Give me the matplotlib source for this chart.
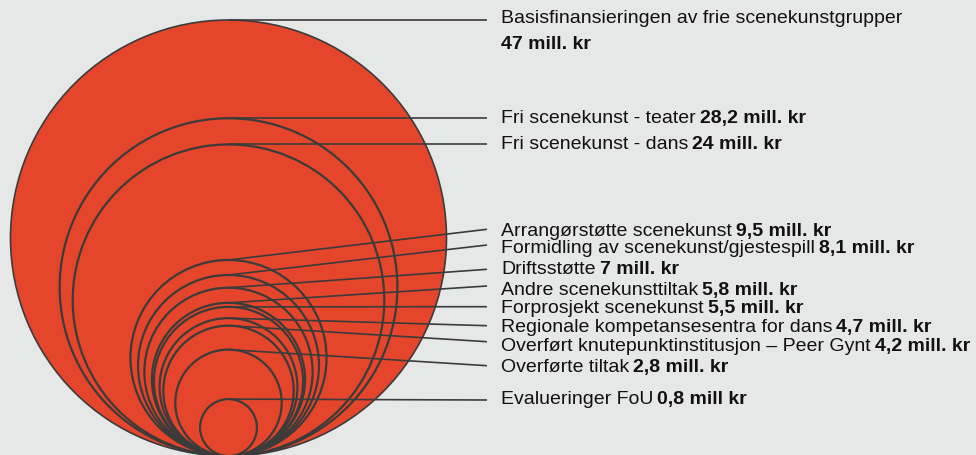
import matplotlib.pyplot as plt
from matplotlib.patches import Circle
import numpy as np

# tildelinger, mill. kr
names = ['Basisfinansieringen av frie scenekunstgrupper',
         'Fri scenekunst - teater',
         'Fri scenekunst - dans',
         'Arrangørstøtte scenekunst',
         'Formidling av scenekunst/gjestespill',
         'Driftsstøtte',
         'Andre scenekunsttiltak',
         'Forprosjekt scenekunst',
         'Regionale kompetansesentra for dans',
         'Overført knutepunktinstitusjon – Peer Gynt',
         'Overførte tiltak',
         'Evalueringer FoU']
values = [47, 28.2, 24, 9.5, 8.1, 7, 5.8, 5.5, 4.7, 4.2, 2.8, 0.8]
amounts = ['47 mill. kr', '28,2 mill. kr', '24 mill. kr', '9,5 mill. kr',
           '8,1 mill. kr', '7 mill. kr', '5,8 mill. kr', '5,5 mill. kr',
           '4,7 mill. kr', '4,2 mill. kr', '2,8 mill. kr', '0,8 mill kr']

# layout (pixels)
cx, base, R = 228.5, 456, 218
line_end = 487
text_x = 501
line_y = [None, None, None, 229.3, 245, 269.3, 286, 306.7, 325.7, 341.7, 365.7, 400]
text_y = [17, 117, 143, 230, 247, 268, 289, 307, 326, 345, 366, 398]

bg = '#e6e8e7'
red = '#e5462b'
ink = '#3b3b3b'

fig = plt.figure(figsize=(9.76, 4.55), dpi=100)
fig.patch.set_facecolor(bg)
ax = fig.add_axes([0, 0, 1, 1])
ax.set_xlim(0, 976)
ax.set_ylim(455, 0)
ax.set_aspect('equal')
ax.axis('off')

radii = R * np.sqrt(np.array(values) / values[0])
for i, r in enumerate(radii):
    ax.add_patch(Circle((cx, base - r), r, facecolor=red, edgecolor=ink,
                        lw=1.2 if i == 0 else 1.6, zorder=2 + i))

font = dict(family=['Liberation Sans', 'DejaVu Sans'], fontsize=14, color='#111111')
renderer = fig.canvas.get_renderer()
inv = ax.transData.inverted()
for i, r in enumerate(radii):
    top = base - 2 * r
    ly = top if line_y[i] is None else line_y[i]
    ax.plot([cx, line_end], [top, ly], color=ink, lw=1.2, zorder=20,
            solid_capstyle='butt')
    yb = text_y[i] + 6  # baseline
    t = ax.text(text_x, yb, names[i], va='baseline', ha='left', **font)
    if i == 0:
        ax.text(text_x, 43 + 6, amounts[i], va='baseline', ha='left',
                fontweight='bold', **font)
    else:
        bb = t.get_window_extent(renderer)
        x_end = inv.transform((bb.x1, bb.y0))[0]
        ax.text(x_end + 4, yb, amounts[i], va='baseline', ha='left',
                fontweight='bold', **font)

fig.savefig('out.png', dpi=100, facecolor=bg)
